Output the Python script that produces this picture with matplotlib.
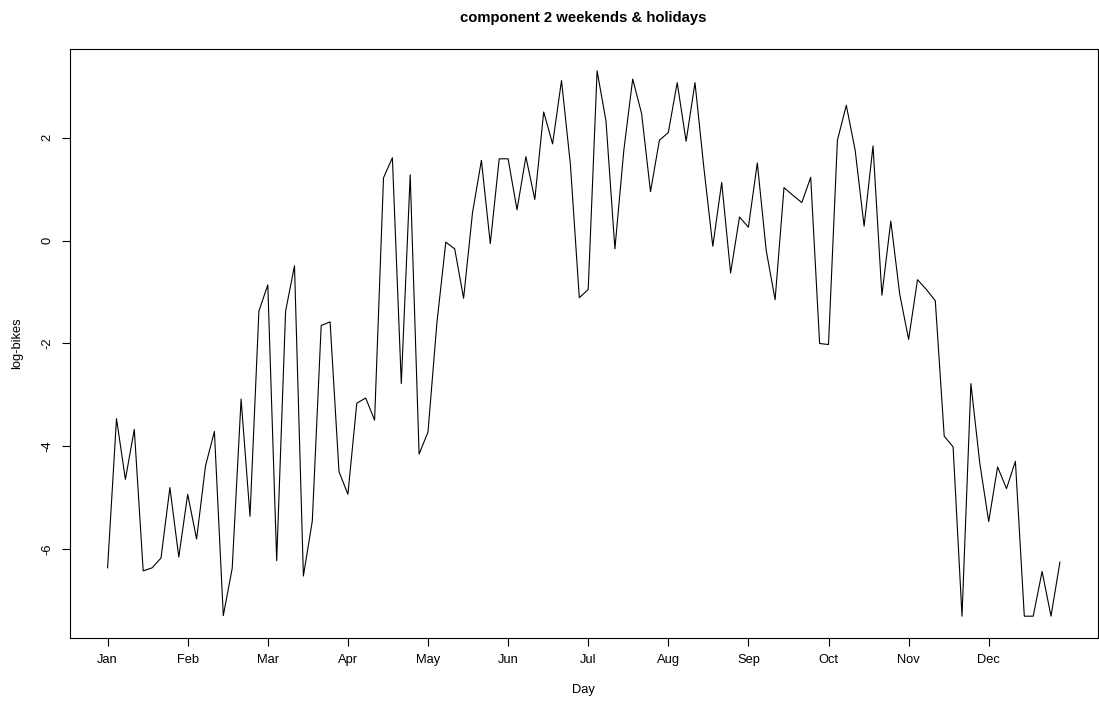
#!/usr/bin/env python3
"""Component 2 (weekends & holidays): log-bikes by day, drawn in the style of an R base plot."""
import matplotlib
matplotlib.use("Agg")
import matplotlib.pyplot as plt
import numpy as np

plt.rcParams["font.family"] = ["Liberation Sans", "DejaVu Sans"]

# one value per weekend/holiday day
LOG_BIKES = [
    -6.36, -3.46, -4.64, -3.67, -6.42, -6.36, -6.17, -4.80, -6.15, -4.93,
    -5.80, -4.38, -3.71, -7.29, -6.37, -3.08, -5.36, -1.37, -0.86, -6.22,
    -1.37, -0.49, -6.52, -5.45, -1.65, -1.58, -4.49, -4.93, -3.16, -3.06,
    -3.49, 1.22, 1.61, -2.78, 1.28, -4.15, -3.72, -1.60, -0.03, -0.16,
    -1.12, 0.54, 1.56, -0.06, 1.59, 1.59, 0.60, 1.63, 0.80, 2.50,
    1.88, 3.11, 1.48, -1.11, -0.95, 3.30, 2.32, -0.16, 1.75, 3.14,
    2.47, 0.95, 1.95, 2.10, 3.07, 1.93, 3.07, 1.41, -0.11, 1.13,
    -0.63, 0.46, 0.26, 1.51, -0.19, -1.15, 1.03, 0.88, 0.74, 1.23,
    -2.00, -2.02, 1.95, 2.63, 1.75, 0.28, 1.84, -1.06, 0.38, -1.04,
    -1.92, -0.76, -0.95, -1.17, -3.80, -4.01, -7.30, -2.78, -4.33, -5.46,
    -4.40, -4.82, -4.29, -7.30, -7.30, -6.43, -7.30, -6.25,
]
MONTHS = ["Jan", "Feb", "Mar", "Apr", "May", "Jun",
          "Jul", "Aug", "Sep", "Oct", "Nov", "Dec"]
MONTH_TICKS = [1, 10, 19, 28, 37, 46, 55, 64, 73, 82, 91, 100]
Y_TICKS = [-6, -4, -2, 0, 2]

W, H = 1099, 702
fig = plt.figure(figsize=(W / 100, H / 100), dpi=100)
left, right, top, bottom = 69.5, 1098.0, 49.0, 638.0
ax = fig.add_axes([left / W, 1 - bottom / H, (right - left) / W, (bottom - top) / H])

y = np.array(LOG_BIKES)
x = np.arange(1, len(y) + 1)
ax.plot(x, y, color="black", linewidth=0.8)

# R-style 4% padding on both axes
xr = x.max() - x.min()
yr = y.max() - y.min()
ax.set_xlim(x.min() - 0.04 * xr, x.max() + 0.04 * xr)
ax.set_ylim(y.min() - 0.04 * yr, y.max() + 0.04 * yr)

ax.set_xticks(MONTH_TICKS)
ax.set_xticklabels(MONTHS)
ax.set_yticks(Y_TICKS)
ax.set_yticklabels([str(v) for v in Y_TICKS], rotation=90, va="center")
ax.tick_params(direction="out", length=5.8, width=0.8, labelsize=9.3, colors="black")
ax.tick_params(axis="x", pad=6.0)
ax.tick_params(axis="y", pad=5.5)
for s in ax.spines.values():
    s.set_linewidth(0.8)
    s.set_color("black")

ax.set_xlabel("Day", fontsize=9.3)
ax.xaxis.set_label_coords(0.5, (bottom - 690) / (bottom - top))
ax.xaxis.label.set_va("center")
ax.set_ylabel("log-bikes", fontsize=9.3)
ax.yaxis.set_label_coords((17 - left) / (right - left), 0.5)
ax.yaxis.label.set_va("center")

fig.text((left + right) / 2 / W, 1 - 18 / H, "component 2 weekends & holidays",
         ha="center", va="center", fontsize=10.7, fontweight="bold")

fig.savefig("out.png", dpi=100)
